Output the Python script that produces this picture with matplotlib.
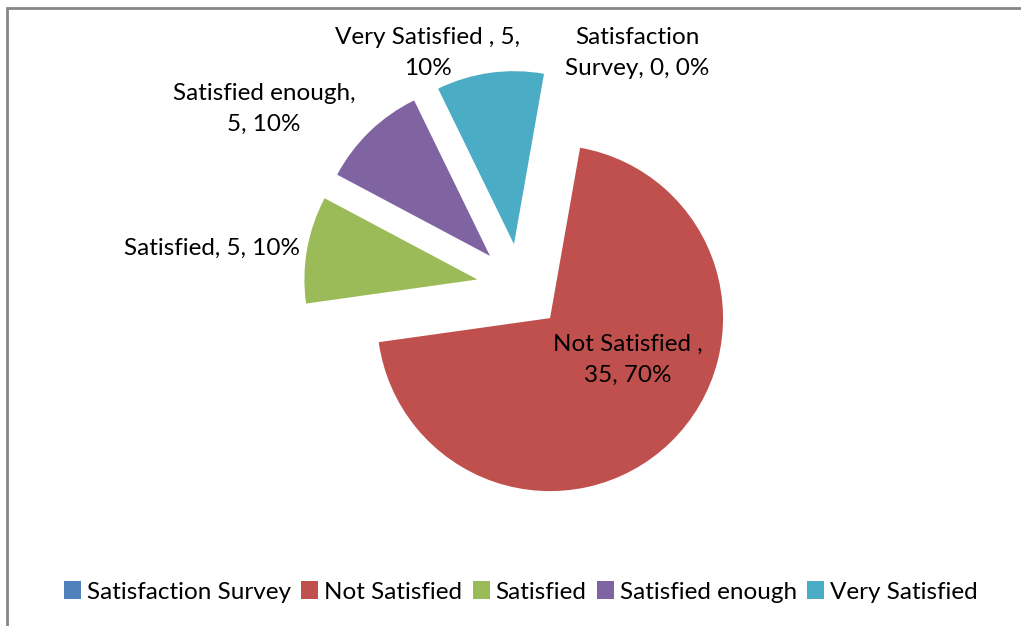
import matplotlib
matplotlib.use("Agg")
import matplotlib.pyplot as plt
from matplotlib.patches import Rectangle, Patch

categories = ["Satisfaction Survey", "Not Satisfied", "Satisfied", "Satisfied enough", "Very Satisfied"]
values = [0, 35, 5, 5, 5]
percents = ["0%", "70%", "10%", "10%", "10%"]
label_texts = ["Satisfaction\nSurvey, 0, 0%", "Not Satisfied ,\n35, 70%", "Satisfied, 5, 10%",
               "Satisfied enough,\n5, 10%", "Very Satisfied , 5,\n10%"]
colors = ["#4F81BD", "#C0504D", "#9BBB59", "#8064A2", "#4BACC6"]

plt.rcParams['font.family'] = ['Lato', 'DejaVu Sans']

W, H = 1021, 626
fig = plt.figure(figsize=(W / 100, H / 100), dpi=100)
ax = fig.add_axes([0, 0, 1, 1])

# pixel geometry
cx, cy, r = 520, 287, 173

ax.pie(values, colors=colors, startangle=80, counterclock=False,
       explode=[0.25] * len(values), radius=1,
       wedgeprops=dict(linewidth=0))
ax.set_aspect("auto")
ax.set_xlim(-cx / r, (W - cx) / r)
ax.set_ylim(-(H - cy) / r, cy / r)
ax.axis("off")

def px(x, y):
    return (x - cx) / r, (cy - y) / r

fs = 17.5
label_pos = [(637, 53), (628, 360), (212, 248), (264, 109), (428, 53)]
for t, (x, y) in zip(label_texts, label_pos):
    ax.text(*px(x, y), t, ha="center", va="center", fontsize=fs,
            color="#000000", linespacing=1.55)

handles = [Patch(facecolor=c, edgecolor="none") for c in colors]
leg = fig.legend(handles, categories, loc="center", bbox_to_anchor=(521 / W, 1 - 592 / H),
                 ncol=5, frameon=False, fontsize=fs, handlelength=0.7, handleheight=0.7,
                 handletextpad=0.25, columnspacing=0.42, borderaxespad=0)

fig.patches.append(Rectangle((7 / W, -0.1), 1.2, 1 - 8 / H + 0.1, transform=fig.transFigure,
                             fill=False, edgecolor="#868686", linewidth=2))

fig.savefig("out.png", dpi=100)
